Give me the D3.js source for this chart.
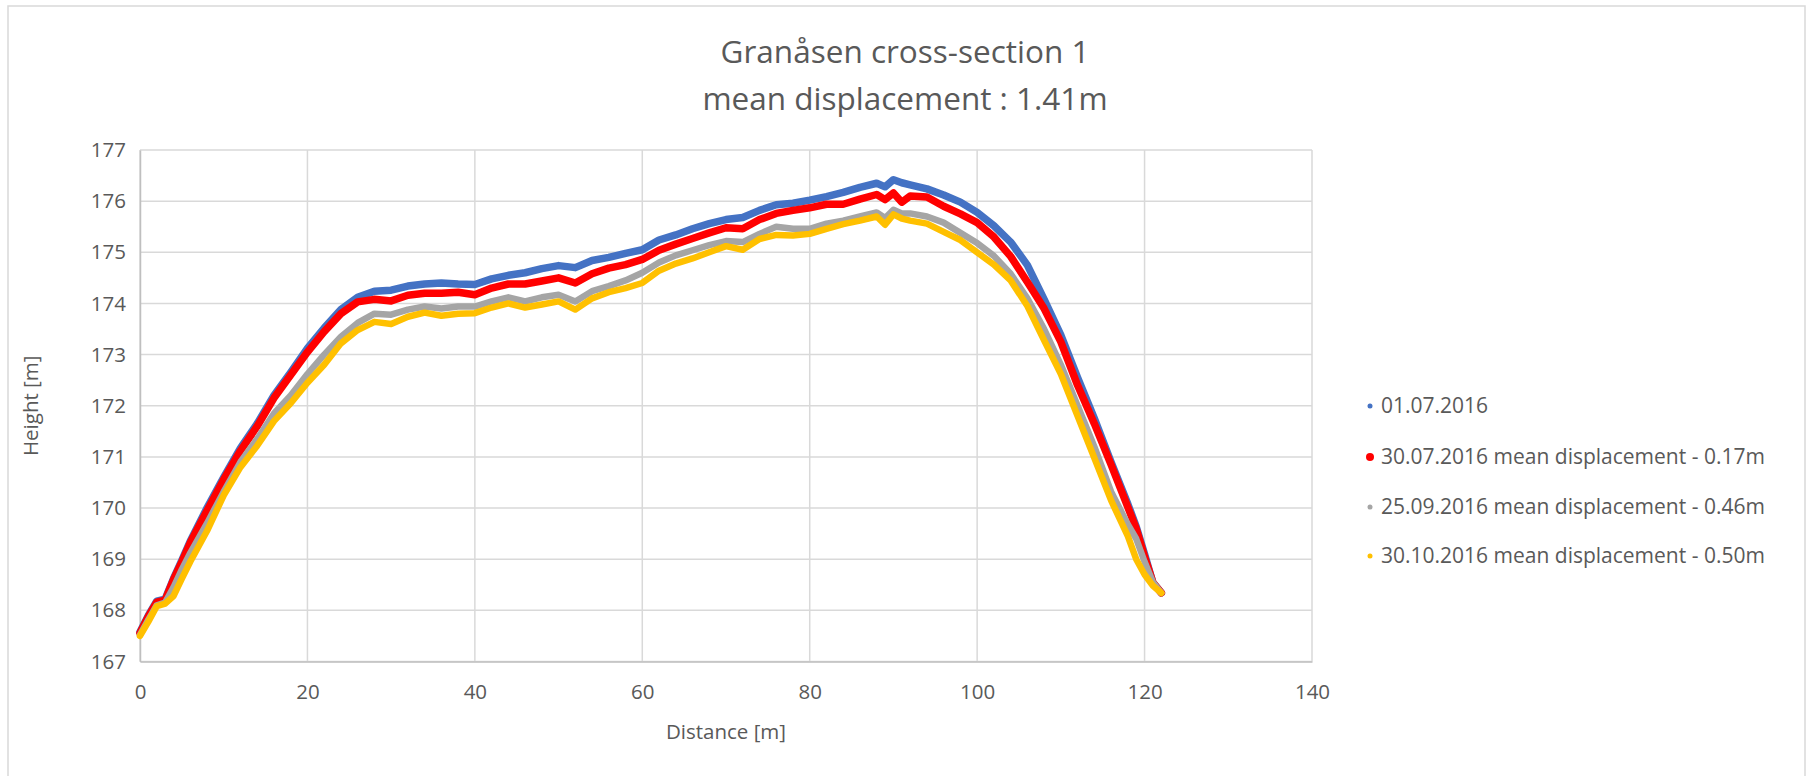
<!DOCTYPE html>
<html>
<head>
<meta charset="utf-8">
<script src="https://cdn.jsdelivr.net/npm/d3@7"></script>
<style>
  html, body { margin: 0; padding: 0; background: #ffffff; }
  svg { display: block; }
  text { font-family: "Open Sans", "Noto Sans", sans-serif; fill: #595959; }
</style>
</head>
<body>
<svg id="chart" width="1810" height="776"></svg>
<script>
// ---- data ----
const titleLines = ["Granåsen cross-section 1", "mean displacement : 1.41m"];
const xTitle = "Distance [m]";
const yTitle = "Height [m]";
const xTicks = [0, 20, 40, 60, 80, 100, 120, 140];
const yTicks = [167, 168, 169, 170, 171, 172, 173, 174, 175, 176, 177];

const distance = [0,1,2,3,4,5,6,8,10,12,14,16,18,20,22,24,26,28,30,32,34,36,38,40,42,44,46,48,50,52,54,56,58,60,62,64,66,68,70,72,74,76,78,80,82,84,86,88,89,90,91,92,94,96,98,100,102,104,106,108,110,112,114,116,118,119,120,121,122];

const h20160701 = [167.58,167.90,168.18,168.22,168.62,168.98,169.35,170.00,170.60,171.17,171.65,172.20,172.65,173.12,173.52,173.88,174.12,174.24,174.26,174.34,174.38,174.40,174.38,174.37,174.48,174.55,174.60,174.68,174.74,174.70,174.84,174.90,174.98,175.05,175.24,175.34,175.46,175.56,175.64,175.68,175.82,175.93,175.96,176.02,176.09,176.17,176.27,176.35,176.28,176.42,176.36,176.32,176.24,176.12,175.98,175.78,175.52,175.20,174.75,174.08,173.38,172.55,171.75,170.90,170.08,169.64,169.10,168.54,168.34];

const h20160730 = [167.56,167.88,168.16,168.20,168.60,168.95,169.32,169.95,170.56,171.12,171.60,172.15,172.60,173.05,173.45,173.80,174.03,174.08,174.05,174.16,174.20,174.20,174.22,174.17,174.30,174.38,174.38,174.44,174.50,174.40,174.58,174.69,174.76,174.86,175.04,175.16,175.27,175.38,175.48,175.46,175.64,175.76,175.82,175.87,175.94,175.94,176.04,176.13,176.03,176.16,175.98,176.10,176.08,175.90,175.75,175.58,175.30,174.92,174.42,173.90,173.25,172.40,171.65,170.85,170.02,169.60,169.05,168.54,168.34];

const h20160925 = [167.52,167.82,168.10,168.15,168.45,168.80,169.12,169.70,170.32,170.90,171.35,171.85,172.20,172.62,173.00,173.35,173.62,173.80,173.78,173.88,173.94,173.90,173.94,173.94,174.04,174.12,174.04,174.12,174.17,174.04,174.24,174.34,174.45,174.60,174.80,174.94,175.04,175.14,175.22,175.20,175.36,175.50,175.46,175.46,175.56,175.62,175.70,175.78,175.67,175.83,175.76,175.76,175.70,175.58,175.38,175.18,174.93,174.58,174.10,173.50,172.80,172.00,171.20,170.32,169.68,169.40,168.95,168.55,168.34];

const h20161030 = [167.50,167.78,168.08,168.13,168.28,168.62,168.95,169.55,170.25,170.80,171.22,171.70,172.05,172.45,172.80,173.22,173.48,173.64,173.60,173.74,173.82,173.76,173.80,173.81,173.92,174.00,173.92,173.98,174.04,173.88,174.10,174.22,174.30,174.40,174.64,174.78,174.88,175.00,175.12,175.05,175.26,175.34,175.33,175.36,175.46,175.55,175.62,175.70,175.54,175.74,175.66,175.62,175.56,175.40,175.24,175.00,174.76,174.45,173.95,173.28,172.62,171.80,170.98,170.15,169.45,169.00,168.70,168.48,168.34];

const seriesNames = [
  "01.07.2016",
  "30.07.2016 mean displacement - 0.17m",
  "25.09.2016 mean displacement - 0.46m",
  "30.10.2016 mean displacement - 0.50m"
];
const seriesValues = [h20160701, h20160730, h20160925, h20161030];
const seriesColors = ["#4472C4", "#FF0000", "#A5A5A5", "#FFC000"];

// ---- layout ----
const svg = d3.select("#chart");
const plot = { left: 140, right: 1312, top: 150, bottom: 661.5 };

// chart border
svg.append("rect")
  .attr("x", 8).attr("y", 6)
  .attr("width", 1797).attr("height", 800)
  .attr("fill", "#ffffff")
  .attr("stroke", "#d9d9d9").attr("stroke-width", 1.5);

const x = d3.scaleLinear().domain([0, 140]).range([plot.left, plot.right]);
const y = d3.scaleLinear().domain([167, 177]).range([plot.bottom, plot.top]);

// gridlines
const g = svg.append("g");
g.selectAll("line.hg").data(yTicks).join("line")
  .attr("x1", plot.left).attr("x2", plot.right)
  .attr("y1", d => y(d)).attr("y2", d => y(d))
  .attr("stroke", "#d9d9d9").attr("stroke-width", 1.5);
g.selectAll("line.vg").data(xTicks).join("line")
  .attr("y1", plot.top).attr("y2", plot.bottom)
  .attr("x1", d => x(d)).attr("x2", d => x(d))
  .attr("stroke", "#d9d9d9").attr("stroke-width", 1.5);

// axes
const xAxis = d3.axisBottom(x).tickValues(xTicks).tickSize(0).tickPadding(23).tickFormat(d3.format("d"));
const yAxis = d3.axisLeft(y).tickValues(yTicks).tickSize(0).tickPadding(14).tickFormat(d3.format("d"));

const gx = svg.append("g").attr("transform", `translate(0,${plot.bottom})`).call(xAxis);
const gy = svg.append("g").attr("transform", `translate(${plot.left},0)`).call(yAxis);
[gx, gy].forEach(a => {
  a.select(".domain").attr("stroke", "#bfbfbf").attr("stroke-width", 1.5);
  a.selectAll("text").attr("font-size", 20.5).attr("fill", "#595959")
    .attr("font-family", '"Open Sans", sans-serif');
});

// series lines
const line = d3.line()
  .x((d, i) => x(distance[i]))
  .y(d => y(d));

const widths = [7.5, 7.5, 6.5, 6.5];
seriesValues.forEach((vals, k) => {
  svg.append("path")
    .datum(vals)
    .attr("d", line)
    .attr("fill", "none")
    .attr("stroke", seriesColors[k])
    .attr("stroke-width", widths[k])
    .attr("stroke-linejoin", "round")
    .attr("stroke-linecap", "round");
});

// titles
svg.append("text").attr("x", 905).attr("y", 63)
  .attr("text-anchor", "middle").attr("font-size", 31.5).text(titleLines[0]);
svg.append("text").attr("x", 905).attr("y", 110)
  .attr("text-anchor", "middle").attr("font-size", 31.5).text(titleLines[1]);

svg.append("text").attr("x", (plot.left + plot.right) / 2).attr("y", 739)
  .attr("text-anchor", "middle").attr("font-size", 20.5).text(xTitle);
svg.append("text")
  .attr("transform", `translate(38,${(plot.top + plot.bottom) / 2}) rotate(-90)`)
  .attr("text-anchor", "middle").attr("font-size", 20.5).text(yTitle);

// legend
const legendY = [406, 457, 507, 556];
const markerR = [2.5, 4, 2.5, 2.5];
const leg = svg.append("g");
seriesNames.forEach((name, k) => {
  leg.append("circle").attr("cx", 1370).attr("cy", legendY[k]).attr("r", markerR[k])
    .attr("fill", seriesColors[k]);
  leg.append("text").attr("x", 1381).attr("y", legendY[k]).attr("dy", "0.35em")
    .attr("font-size", 21).text(name);
});
</script>
</body>
</html>
